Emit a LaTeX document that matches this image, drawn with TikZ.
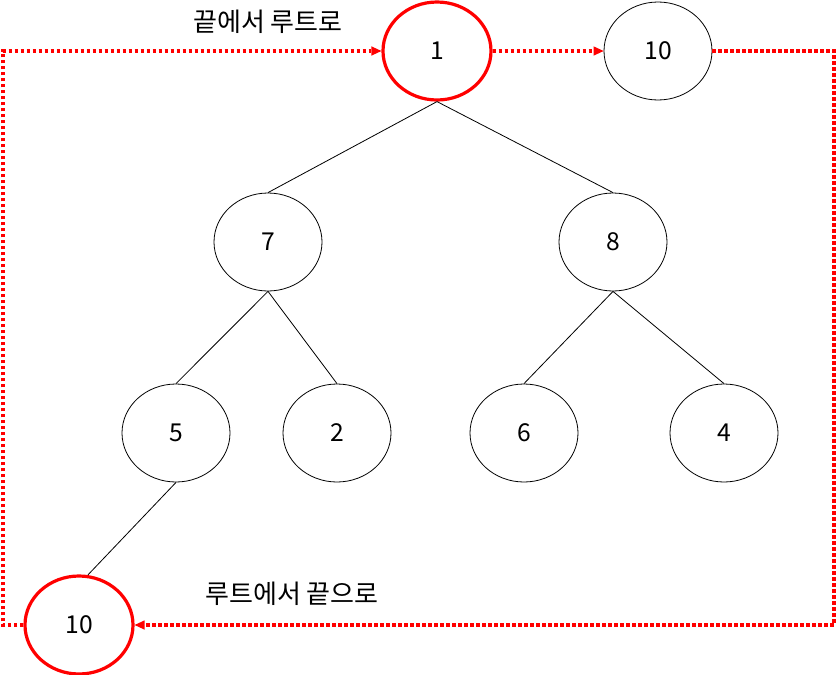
\documentclass[tikz,border=0pt]{standalone}
\usepackage{fontspec}
\setmainfont{Noto Sans CJK KR}
\usetikzlibrary{arrows.meta,shapes.geometric}
\begin{document}
\begin{tikzpicture}[x=0.75pt,y=-0.75pt,
  every node/.style={font=\fontsize{18.5}{22}\selectfont},
  tnode/.style={ellipse,draw=black,line width=0.6pt,minimum width=81pt,minimum height=73.5pt,inner sep=0pt},
  rnode/.style={tnode,draw=red,line width=2.4pt},
  edge/.style={draw=black,line width=0.6pt},
  flow/.style={draw=red,line width=2.7pt,dash pattern=on 2.4pt off 2.1pt},
  flowarrow/.style={flow,-{Triangle[length=7.5pt,width=7pt,line width=0pt]}},
  lbl/.style={inner sep=0pt,font=\fontsize{19.5}{23}\selectfont}]
\useasboundingbox (0,0) rectangle (836,675);
\node[rnode] (n1) at (437,51) {1};
\node[tnode] (t10) at (658,51) {10};
\node[tnode] (n7) at (268,242) {7};
\node[tnode] (n8) at (613,242) {8};
\node[tnode] (n5) at (176,433) {5};
\node[tnode] (n2) at (337,433) {2};
\node[tnode] (n6) at (524,433) {6};
\node[tnode] (n4) at (724,433) {4};
\node[rnode] (b10) at (79,625) {10};
\node[lbl] (la) at (268,22) {끝에서 루트로};
\node[lbl] (lb) at (292,594) {루트에서 끝으로};
\coordinate (cl1) at (3,625);
\coordinate (cl2) at (3,51);
\coordinate (cr1) at (834,51);
\coordinate (cr2) at (834,625);
\draw[edge] (n1.south) -- (n7.north);
\draw[edge] (n1.south) -- (n8.north);
\draw[edge] (n7.south) -- (n5.north);
\draw[edge] (n7.south) -- (n2.north);
\draw[edge] (n8.south) -- (n6.north);
\draw[edge] (n8.south) -- (n4.north);
\draw[edge] (n5.south) -- (b10.80);
\draw[flowarrow] (b10.west) -- (cl1) -- (cl2) -- (n1.west);
\draw[flowarrow] (n1.east) -- (t10.west);
\draw[flowarrow] (t10.east) -- (cr1) -- (cr2) -- (b10.east);
\end{tikzpicture}
\end{document}
